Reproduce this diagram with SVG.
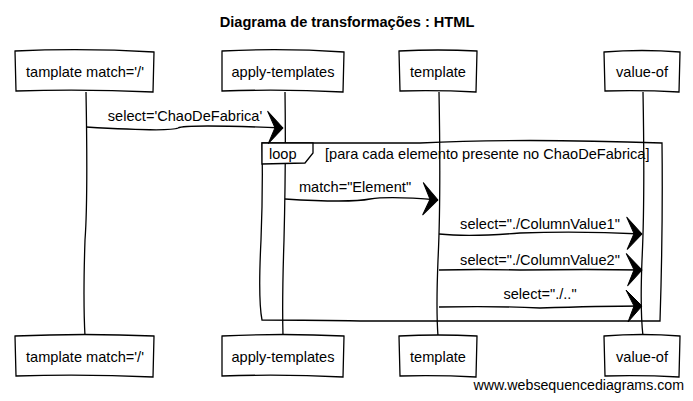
<svg xmlns="http://www.w3.org/2000/svg" width="693" height="401" viewBox="0 0 693 401">
<defs>
<style>
.box{fill:#fff;stroke:#000;stroke-width:1.3}
.ln{fill:none;stroke:#000;stroke-width:1.3}
.t{font-family:"Liberation Sans",Arial,sans-serif;font-size:14.6px;fill:#000}
.c{text-anchor:middle}
.ttl{font-family:"Liberation Sans",Arial,sans-serif;font-size:14.6px;font-weight:bold;text-anchor:middle}
</style>
<marker id="ah" markerWidth="20" markerHeight="36" refX="17" refY="17" orient="auto" markerUnits="userSpaceOnUse">
<path d="M1,1 L17,17 L3,33 L9,17 Z" fill="#000" stroke="#000" stroke-width="1" stroke-linejoin="round"/>
</marker>
</defs>
<rect width="693" height="401" fill="#fff"/>
<text class="ttl" x="347" y="27">Diagrama de transformações : HTML</text>

<g id="lifelines">
<path class="ln" d="M86,92 Q88,200 85,240 Q83,300 85,336"/>
<path class="ln" d="M285,92 Q286,160 284,240 Q282,300 283,336"/>
<path class="ln" d="M439,92 Q441,200 438,260 Q436,310 438,336"/>
<path class="ln" d="M643,92 Q645,200 642,260 Q640,310 643,336"/>
</g>

<g id="loop">
<path class="ln" d="M262,143 L420,143 Q520,138 662,143 Q663,230 660,321 L360,321 Q320,320 262,320 Q258,300 261,240 Q263,190 262,143 Z"/>
<path class="box" d="M262,143 L313,143 L313,153 L305,163 L262,164 Z"/>
<text class="t" x="269" y="159">loop</text>
<text class="t" x="325" y="159">[para cada elemento presente no ChaoDeFabrica]</text>
</g>

<g id="p1-top"><path class="box" d="M15,51 Q85,48 154,52 L153,92 Q85,89 16,91 Z"/><text class="t c" x="85" y="77">tamplate match='/'</text></g>
<g id="p2-top"><path class="box" d="M222,51 Q283,48 344,52 L343,92 Q283,89 222,91 Z"/><text class="t c" x="283" y="77">apply-templates</text></g>
<g id="p3-top"><path class="box" d="M399,51 Q438,49 477,51 L476,92 Q438,90 400,91 Z"/><text class="t c" x="438" y="77">template</text></g>
<g id="p4-top"><path class="box" d="M604,52 Q642,49 680,52 L679,92 Q642,90 605,91 Z"/><text class="t c" x="642" y="77">value-of</text></g>

<g id="p1-bot"><path class="box" d="M15,336 Q85,333 154,336 L153,377 Q85,374 16,376 Z"/><text class="t c" x="85" y="362">tamplate match='/'</text></g>
<g id="p2-bot"><path class="box" d="M222,336 Q283,333 344,336 L343,377 Q283,374 222,376 Z"/><text class="t c" x="283" y="362">apply-templates</text></g>
<g id="p3-bot"><path class="box" d="M399,336 Q438,334 477,336 L476,377 Q438,375 400,376 Z"/><text class="t c" x="438" y="362">template</text></g>
<g id="p4-bot"><path class="box" d="M604,336 Q642,333 680,336 L679,377 Q642,375 605,376 Z"/><text class="t c" x="642" y="362">value-of</text></g>

<g id="connectors">
<path class="ln" d="M86,127 Q170,132 178,128 Q185,124 283,128" marker-end="url(#ah)"/>
<text class="t c" x="185" y="121">select='ChaoDeFabrica'</text>
<path class="ln" d="M285,199 Q350,203 370,199 Q390,196 438,200" marker-end="url(#ah)"/>
<text class="t c" x="355" y="192">match="Element"</text>
<path class="ln" d="M439,234 Q470,237 520,233 Q580,231 642,234" marker-end="url(#ah)"/>
<text class="t c" x="540" y="229">select="./ColumnValue1"</text>
<path class="ln" d="M439,270 Q480,269 520,270 Q590,269 642,270" marker-end="url(#ah)"/>
<text class="t c" x="540" y="265">select="./ColumnValue2"</text>
<path class="ln" d="M439,307 Q500,306 540,308 Q600,306 642,306" marker-end="url(#ah)"/>
<text class="t c" x="540" y="299">select="./.."</text>
</g>

<text class="t" x="684" y="390" text-anchor="end" style="font-size:14.2px">www.websequencediagrams.com</text>
</svg>
